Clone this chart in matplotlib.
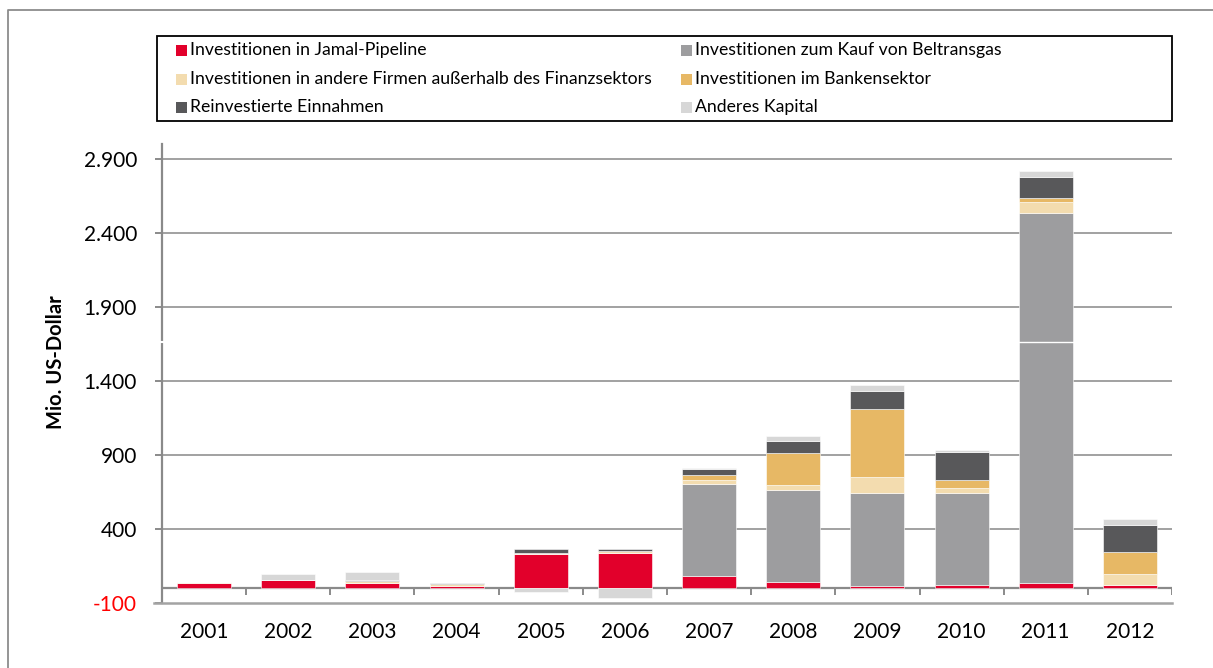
import matplotlib
matplotlib.use("Agg")
import matplotlib.pyplot as plt
import numpy as np
from matplotlib.patches import Rectangle

plt.rcParams["font.family"] = ["Lato", "DejaVu Sans"]

# ---------- data (Mio. US-Dollar) ----------
years = ["2001", "2002", "2003", "2004", "2005", "2006",
         "2007", "2008", "2009", "2010", "2011", "2012"]
jamal = [36, 55, 37, 17, 233, 240, 82, 44, 15, 24, 33, 24]
beltransgas = [0, 0, 0, 0, 0, 0, 622, 622, 625, 622, 2500, 0]
andere_firmen = [9, 0, 10, 10, 7, 11, 25, 30, 113, 30, 78, 70]
bankensektor = [0, 0, 0, 0, 0, 0, 36, 220, 460, 56, 27, 153]
reinvestiert = [0, 0, 5, 8, 27, 14, 38, 81, 122, 191, 142, 182]
anderes_kapital = [0, 41, 58, 0, -25, -64, 7, 32, 36, 11, 41, 41]

labels = ["Investitionen in Jamal-Pipeline",
          "Investitionen zum Kauf von Beltransgas",
          "Investitionen in andere Firmen außerhalb des Finanzsektors",
          "Investitionen im Bankensektor",
          "Reinvestierte Einnahmen",
          "Anderes Kapital"]
colors = ["#E2002B", "#9D9D9F", "#F3DCAF", "#E7B865", "#58585A", "#D7D7D7"]
yticks = [-100, 400, 900, 1400, 1900, 2400, 2900]

series = [jamal, beltransgas, andere_firmen, bankensektor, reinvestiert, anderes_kapital]

# ---------- figure ----------
W, H = 1213, 668
fig = plt.figure(figsize=(W / 100, H / 100), dpi=100)
ax = fig.add_axes([162 / W, (H - 603) / H, (1172 - 162) / W, (603 - 144) / H])

x = np.arange(len(years))
pos_bottom = np.zeros(len(years))
neg_bottom = np.zeros(len(years))
for vals, col in zip(series, colors):
    v = np.array(vals, dtype=float)
    bottom = np.where(v >= 0, pos_bottom, neg_bottom)
    ax.bar(x, v, width=0.64, bottom=bottom, color=col, edgecolor="white",
           linewidth=0.4, zorder=3)
    pos_bottom += np.where(v > 0, v, 0)
    neg_bottom += np.where(v < 0, v, 0)

ax.set_xlim(-0.5, len(years) - 0.5)
ax.set_ylim(-100, 3000)

# grid lines (not at the bottom value)
for t in yticks[1:]:
    ax.axhline(t, color="#9a9a9a", lw=1.3, zorder=1)

# zero axis with category boundary ticks
ax.axhline(0, color="#8a8a8a", lw=1.6, zorder=2)
ax.vlines(np.arange(len(years) + 1) - 0.5, -45, 0, color="#8a8a8a", lw=1.4, zorder=2)
# bottom line at -100, reaching a bit left of the spine
ax.plot([-0.6, len(years) - 0.5], [-100, -100], color="#a3a3a3", lw=1.8,
        clip_on=False, zorder=4)

for s in ["top", "right", "bottom"]:
    ax.spines[s].set_visible(False)
ax.spines["left"].set_color("#8a8a8a")
ax.spines["left"].set_linewidth(1.6)

ax.set_yticks(yticks)
ax.set_yticklabels([f"{t:,}".replace(",", ".") for t in yticks], fontsize=15)
ax.tick_params(axis="y", length=5, width=1.4, color="#8a8a8a", pad=13)
ax.get_yticklabels()[0].set_color("#FF0000")

ax.set_xticks(x)
ax.set_xticklabels(years, fontsize=15)
ax.tick_params(axis="x", length=0, pad=14)

# small white break seen in the original
ax.plot([-0.56, -0.44], [1663, 1663], color="white", lw=1.5, clip_on=False, zorder=6)
ax.plot([10 - 0.33, 10 + 0.33], [1663, 1663], color="white", lw=1.0, zorder=6)

fig.text(56 / W, 1 - 362 / H, "Mio. US-Dollar", rotation=90, ha="center",
         va="center", fontsize=14.5, fontweight="bold")

# ---------- overlay in pixel coordinates: frame + legend ----------
ov = fig.add_axes([0, 0, 1, 1], zorder=-1)
ov.set_xlim(0, W); ov.set_ylim(H, 0); ov.axis("off")
ov.plot([8, 8, W + 5], [H + 5, 10, 10], color="#8c8c8c", lw=1.3)

lg = fig.add_axes([0, 0, 1, 1], zorder=5)
lg.set_xlim(0, W); lg.set_ylim(H, 0); lg.axis("off"); lg.patch.set_alpha(0)
lg.add_patch(Rectangle((157, 36), 1172 - 157, 121 - 36, fill=False,
                       edgecolor="black", lw=1.3))
order = [0, 2, 4, 1, 3, 5]
row_y = [50.5, 79, 107]
col_x = [176, 681]
for k, idx in enumerate(order):
    cx = col_x[k // 3]; cy = row_y[k % 3]
    lg.add_patch(Rectangle((cx, cy - 5.5), 11, 11, facecolor=colors[idx],
                           edgecolor="none"))
    lg.text(cx + 14, cy, labels[idx], fontsize=12.7, va="center", ha="left")

fig.savefig("out.png", dpi=100)
